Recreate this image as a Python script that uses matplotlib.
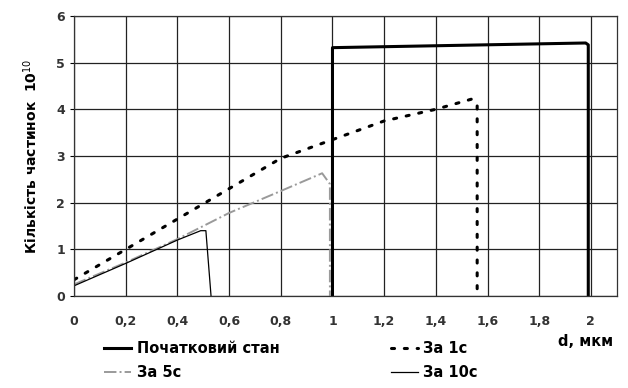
import numpy as np
import matplotlib
matplotlib.use("Agg")
import matplotlib.pyplot as plt

plt.rcParams["font.family"] = ["DejaVu Sans"]

# Дані
x_init = [1.0, 1.0, 1.98, 1.99, 1.99]
y_init = [0.0, 5.32, 5.42, 5.38, 0.0]

x_1s = [0.0, 0.2, 0.4, 0.6, 0.8, 1.0, 1.2, 1.4, 1.54, 1.56, 1.56]
y_1s = [0.35, 1.0, 1.65, 2.3, 2.95, 3.35, 3.75, 4.0, 4.22, 4.1, 0.0]

x_5s = [0.0, 0.2, 0.4, 0.6, 0.8, 0.96, 0.99, 0.99]
y_5s = [0.25, 0.72, 1.22, 1.78, 2.25, 2.63, 2.4, 0.0]

x_10s = [0.0, 0.2, 0.4, 0.49, 0.51, 0.53]
y_10s = [0.22, 0.7, 1.2, 1.4, 1.4, 0.0]

x_ticks = [0, 0.2, 0.4, 0.6, 0.8, 1.0, 1.2, 1.4, 1.6, 1.8, 2.0]
x_tick_labels = ["0", "0,2", "0,4", "0,6", "0,8", "1", "1,2", "1,4", "1,6", "1,8", "2"]
y_ticks = [0, 1, 2, 3, 4, 5, 6]

fig = plt.figure(figsize=(6.28, 3.88), dpi=100)
ax = fig.add_axes([0.118, 0.237, 0.864, 0.722])

l_init, = ax.plot(x_init, y_init, color="black", linewidth=2.2, label="Початковий стан")
l_1s, = ax.plot(x_1s, y_1s, color="black", linewidth=2.2, linestyle=(0, (1, 3.2)),
                dash_capstyle="round", label="За 1с")
l_5s, = ax.plot(x_5s, y_5s, color="#9a9a9a", linewidth=1.4, linestyle="-.", label="За 5с")
l_10s, = ax.plot(x_10s, y_10s, color="black", linewidth=0.9, label="За 10с")

ax.set_xlim(0, 2.1)
ax.set_ylim(0, 6)
ax.set_xticks(x_ticks)
ax.set_xticklabels(x_tick_labels, fontweight="bold", color="#333333")
ax.set_yticks(y_ticks)
ax.set_yticklabels([str(v) for v in y_ticks], fontweight="bold", color="#333333")
ax.tick_params(axis="both", labelsize=9, length=3, width=0.8)
ax.tick_params(axis="x", length=0, pad=14)

ax.grid(True, color="#222222", linewidth=0.9)
for s in ax.spines.values():
    s.set_color("#333333")
    s.set_linewidth(0.9)

ax.set_ylabel("Кількість частинок  10$^{10}$", fontsize=10, fontweight="bold", labelpad=12)
fig.text(0.932, 0.121, "d, мкм", ha="center", va="center", fontsize=10.5, fontweight="bold")

# порядок для заповнення по стовпцях: ряд 1 - стан, 1с; ряд 2 - 5с, 10с
fig.legend([l_init, l_5s, l_1s, l_10s],
           ["Початковий стан", "За 5с", "За 1с", "За 10с"],
           loc="lower left", bbox_to_anchor=(0.145, -0.013), ncol=2, frameon=False,
           prop={"size": 10.5, "weight": "bold"}, handlelength=1.85, columnspacing=7.6,
           labelspacing=0.62, handletextpad=0.4)

fig.savefig("out.png", dpi=100)
